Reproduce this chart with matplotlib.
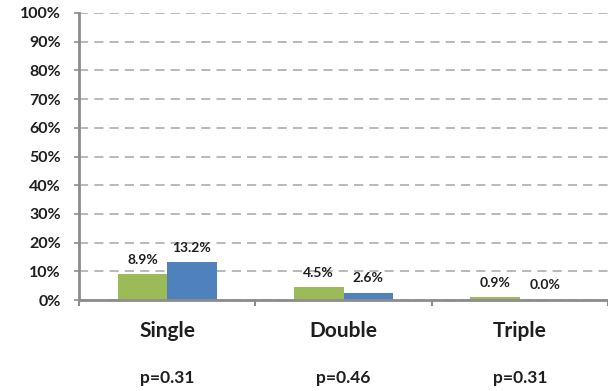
import matplotlib
matplotlib.use("Agg")
import matplotlib.pyplot as plt
import numpy as np

categories = ["Single", "Double", "Triple"]
series_a = [8.9, 4.5, 0.9]    # green
series_b = [13.2, 2.6, 0.0]   # blue
p_values = ["p=0.31", "p=0.46", "p=0.31"]
y_ticks = [0, 10, 20, 30, 40, 50, 60, 70, 80, 90, 100]

green = "#9BBB59"
blue = "#4F81BD"
axis_gray = "#8C8C8C"
grid_gray = "#A6A6A6"
text_color = "#1E1E1E"
font = "Lato"

fig = plt.figure(figsize=(6.08, 3.91), dpi=100)
ax = fig.add_axes([79 / 608, 91 / 391, 529 / 608, 287 / 391])

x = np.arange(len(categories))
w = 50 / 178
bars_a = ax.bar(x - w / 2, series_a, width=w, color=green, zorder=3)
bars_b = ax.bar(x + w / 2, series_b, width=w, color=blue, zorder=3)

for bars, vals in ((bars_a, series_a), (bars_b, series_b)):
    for b, v in zip(bars, vals):
        ax.annotate(f"{v:.1f}%", xy=(b.get_x() + b.get_width() / 2, v),
                    xytext=(0, 10.5), textcoords="offset points",
                    ha="center", va="center", fontsize=10, fontweight="bold",
                    family=font, color=text_color, zorder=4)

ax.set_ylim(0, 100)
ax.set_xlim(-0.5, -0.5 + 529 / 178)
ax.set_yticks(y_ticks)
ax.set_yticklabels([f"{t}%" for t in y_ticks], family=font, fontsize=11.5,
                   fontweight="bold", color=text_color)
ax.yaxis.grid(True, linestyle=(0, (6, 4)), color=grid_gray, linewidth=1.1, zorder=0)
ax.set_axisbelow(True)

ax.set_xticks([-0.5, 0.5, 1.5, 2.5])
ax.set_xticklabels([])
ax.tick_params(axis="x", direction="out", length=4, width=1.5, color=axis_gray)
ax.tick_params(axis="y", direction="out", length=3.6, width=1.2, color=axis_gray, pad=9.4)

for side in ("top", "right"):
    ax.spines[side].set_visible(False)
for side in ("left", "bottom"):
    ax.spines[side].set_color(axis_gray)
    ax.spines[side].set_linewidth(2)
    ax.spines[side].set_zorder(5)

for i, (cat, p) in enumerate(zip(categories, p_values)):
    ax.annotate(cat, xy=(i, 0), xycoords=("data", "axes fraction"),
                xytext=(0, -22), textcoords="offset points",
                ha="center", va="center", fontsize=15, fontweight="bold",
                family=font, color=text_color)
    ax.annotate(p, xy=(i, 0), xycoords=("data", "axes fraction"),
                xytext=(0, -56), textcoords="offset points",
                ha="center", va="center", fontsize=12.5, fontweight="bold",
                family=font, color=text_color)

fig.savefig("out.png", dpi=100)
